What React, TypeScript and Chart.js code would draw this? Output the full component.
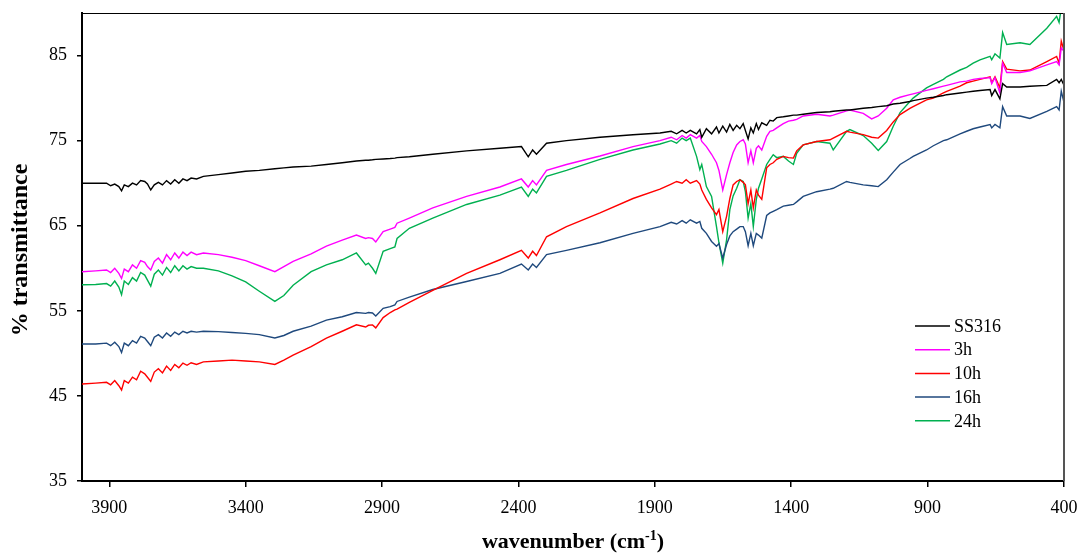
import React, { useEffect, useRef } from "react";
import { Chart, registerables } from "chart.js";

Chart.register(...registerables);

const wavenumbers = [
  4000, 3950, 3910, 3895, 3880, 3865, 3855, 3845, 3830, 3815,
  3800, 3785, 3770, 3760, 3748, 3735, 3720, 3705, 3690, 3675,
  3660, 3645, 3630, 3615, 3600, 3580, 3555, 3500, 3450, 3400,
  3350, 3293, 3260, 3226, 3160, 3104, 3046, 2994, 2960, 2950,
  2935, 2923, 2896, 2870, 2853, 2845, 2800, 2714, 2590, 2468,
  2389, 2364, 2348, 2334, 2297, 2224, 2101, 1980, 1881, 1840,
  1820, 1800, 1785, 1770, 1747, 1735, 1728, 1711, 1692, 1674,
  1665, 1651, 1637, 1625, 1613, 1600, 1588, 1576, 1568, 1558,
  1548, 1539, 1528, 1520, 1508, 1490, 1478, 1466, 1453, 1429,
  1410, 1392, 1380, 1356, 1307, 1258, 1246, 1197, 1185, 1136,
  1105, 1081, 1050, 1026, 1001, 965, 953, 904, 879, 842,
  830, 781, 757, 733, 708, 671, 665, 653, 635, 625,
  610, 561, 525, 463, 427, 418, 410, 400,
];

const ss316 = [
  70.0, 70.0, 70.0, 69.7, 69.9, 69.6, 69.1, 69.8, 69.6, 70.0,
  69.8, 70.3, 70.2, 69.9, 69.2, 69.8, 70.1, 69.8, 70.3, 69.9,
  70.4, 70.0, 70.5, 70.3, 70.6, 70.5, 70.8, 71.0, 71.2, 71.4,
  71.5, 71.7, 71.8, 71.9, 72.0, 72.2, 72.4, 72.6, 72.7, 72.7,
  72.75, 72.8, 72.85, 72.9, 72.95, 73.0, 73.1, 73.4, 73.8, 74.1,
  74.3, 73.1, 73.9, 73.4, 74.7, 75.0, 75.4, 75.7, 75.9, 76.1,
  75.8, 76.2, 75.9, 76.2, 75.8, 76.3, 75.4, 76.4, 75.8, 76.6,
  75.9, 76.7, 76.0, 76.9, 76.2, 76.8, 76.4, 77.0, 76.2, 75.2,
  76.5, 75.9, 77.0, 76.3, 77.1, 76.8, 77.4, 77.3, 77.7, 77.8,
  77.9, 78.0, 78.0, 78.1, 78.3, 78.4, 78.45, 78.6, 78.6, 78.8,
  78.9, 79.0, 79.1, 79.3, 79.4, 79.6, 79.7, 80.0, 80.1, 80.3,
  80.4, 80.6, 80.7, 80.8, 80.9, 81.0, 80.3, 81.0, 79.9, 81.7,
  81.3, 81.3, 81.4, 81.5, 82.2, 81.8, 82.2, 81.5,
];

const h3 = [
  59.6, 59.7, 59.8, 59.5, 60.0, 59.4, 58.8, 59.9, 59.6, 60.4,
  60.0, 60.9, 60.7, 60.2, 59.8, 60.8, 61.2, 60.6, 61.6, 61.0,
  61.8, 61.2, 61.9, 61.5, 61.9, 61.6, 61.8, 61.6, 61.3, 60.9,
  60.3, 59.6, 60.2, 60.8, 61.7, 62.6, 63.3, 63.9, 63.5, 63.6,
  63.5, 63.1, 64.3, 64.6, 64.8, 65.3, 65.9, 67.1, 68.45, 69.55,
  70.5, 69.55, 70.3, 69.8, 71.5, 72.2, 73.2, 74.3, 75.0, 75.4,
  75.1, 75.6, 75.3, 75.7, 75.3, 75.6, 74.9, 74.3, 73.4, 72.4,
  71.5, 69.2, 71.0, 72.4, 73.6, 74.5, 74.9, 75.1, 74.6, 72.4,
  73.8, 72.4, 74.1, 74.4, 73.9, 75.5, 76.1, 76.2, 76.5, 77.0,
  77.3, 77.4, 77.5, 77.9, 78.1, 77.9, 78.0, 78.5, 78.6, 78.2,
  77.55, 77.9, 78.8, 79.8, 80.1, 80.4, 80.5, 80.9, 81.1, 81.4,
  81.5, 81.9, 82.0, 82.2, 82.3, 82.4, 81.7, 82.4, 80.6, 84.1,
  83.0, 83.0, 83.2, 83.9, 84.3, 83.9, 85.9, 85.5,
];

const h10 = [
  46.4, 46.5, 46.6, 46.3, 46.8, 46.2, 45.7, 46.8, 46.5, 47.2,
  46.9, 47.9, 47.6, 47.2, 46.7, 47.8, 48.2, 47.7, 48.5, 48.0,
  48.7, 48.3, 48.85, 48.6, 48.9, 48.7, 49.0, 49.1, 49.2, 49.1,
  49.0, 48.7, 49.2, 49.8, 50.8, 51.8, 52.6, 53.35, 53.1, 53.3,
  53.35, 53.0, 54.2, 54.8, 55.1, 55.2, 56.0, 57.4, 59.4, 61.0,
  62.1, 61.2, 62.0, 61.5, 63.7, 64.9, 66.5, 68.2, 69.3, 69.9,
  70.2, 70.0, 70.4, 70.0, 70.3, 69.9, 69.2, 68.1, 67.1, 66.3,
  66.9, 64.3, 66.1, 68.2, 69.8, 70.2, 70.4, 70.1, 69.8, 67.6,
  69.2, 67.1, 69.2, 68.6, 68.1, 71.8, 72.2, 72.4, 72.8, 73.15,
  73.0, 72.95, 73.8, 74.5, 74.9, 75.1, 75.3, 76.1, 76.0, 75.7,
  75.4, 75.3, 76.2, 77.2, 78.06, 78.8, 79.0, 79.8, 80.0, 80.6,
  80.8, 81.4, 81.8, 82.0, 82.2, 82.5, 81.8, 82.5, 81.2, 84.3,
  83.4, 83.2, 83.3, 84.3, 84.9, 84.1, 86.7, 85.6,
];

const h16 = [
  51.1, 51.1, 51.2, 50.9, 51.3, 50.8, 50.1, 51.2, 50.9, 51.5,
  51.2, 52.0, 51.8, 51.4, 50.9, 51.9, 52.2, 51.8, 52.4, 52.0,
  52.5, 52.2, 52.6, 52.4, 52.6, 52.5, 52.6, 52.55, 52.45, 52.35,
  52.2, 51.8, 52.1, 52.6, 53.2, 53.9, 54.3, 54.8, 54.7, 54.8,
  54.75, 54.4, 55.3, 55.5, 55.7, 56.1, 56.6, 57.5, 58.45, 59.4,
  60.5, 59.8, 60.5, 60.1, 61.6, 62.1, 63.0, 64.1, 64.9, 65.4,
  65.2, 65.6, 65.3, 65.7, 65.3, 65.5, 64.7, 64.1, 63.15, 62.6,
  62.9, 61.2, 62.8, 63.8, 64.3, 64.6, 64.9, 64.9, 64.3, 62.65,
  64.1, 62.65, 64.1, 63.9, 63.55, 66.2, 66.5, 66.7, 66.9, 67.3,
  67.4, 67.5, 67.8, 68.45, 69.0, 69.3, 69.4, 70.2, 70.1, 69.8,
  69.7, 69.6, 70.4, 71.3, 72.2, 72.9, 73.15, 73.9, 74.4, 75.0,
  75.1, 75.8, 76.1, 76.4, 76.6, 76.9, 76.5, 76.9, 76.5, 79.0,
  77.9, 77.9, 77.6, 78.45, 79.0, 78.6, 80.8, 79.5,
];

const h24 = [
  58.06, 58.1, 58.2, 57.9, 58.5, 57.8, 56.9, 58.5, 58.1, 58.9,
  58.5, 59.5, 59.2, 58.6, 57.9, 59.3, 59.8, 59.2, 60.1, 59.5,
  60.3, 59.7, 60.3, 59.9, 60.2, 60.0, 60.0, 59.7, 59.1, 58.4,
  57.3, 56.1, 56.8, 58.0, 59.6, 60.4, 61.0, 61.8, 60.4, 60.6,
  60.0, 59.4, 62.0, 62.3, 62.5, 63.5, 64.7, 65.9, 67.5, 68.6,
  69.55, 68.45, 69.3, 68.85, 70.8, 71.5, 72.8, 73.9, 74.6, 75.0,
  74.7, 75.3, 75.0, 75.3, 73.15, 71.6, 72.2, 69.6, 68.45, 64.9,
  63.0, 60.6, 63.35, 66.9, 68.5, 69.4, 70.4, 70.2, 69.0, 65.9,
  67.6, 64.9, 68.1, 69.4, 70.5, 72.2, 72.8, 73.35, 73.0, 73.15,
  72.6, 72.2, 73.5, 74.5, 74.9, 74.7, 73.9, 76.1, 76.3, 75.6,
  74.7, 73.85, 74.9, 76.7, 78.3, 79.6, 80.0, 81.2, 81.6, 82.2,
  82.5, 83.3, 83.6, 84.1, 84.5, 84.9, 84.5, 85.2, 84.7, 87.7,
  86.3, 86.5, 86.3, 88.2, 89.6, 88.9, 90.6, 90.8,
];

const seriesLabels = ["SS316", "3h", "10h", "16h", "24h"];
const seriesValues = [ss316, h3, h10, h16, h24];
const seriesColors = ["#000000", "#FF00FF", "#FF0000", "#1F497D", "#00B050"];

const xTicks = [3900, 3400, 2900, 2400, 1900, 1400, 900, 400];
const yTicks = [35, 45, 55, 65, 75, 85];

const FONT = "'Liberation Serif', 'Times New Roman', serif";

const framePlugin = {
  id: "frame",
  afterDatasetsDraw(chart: any) {
    const { ctx, chartArea: a } = chart;
    ctx.save();
    ctx.strokeStyle = "#000";
    ctx.lineWidth = 1;
    ctx.beginPath();
    ctx.moveTo(a.left, a.top + 0.5);
    ctx.lineTo(a.right, a.top + 0.5);
    ctx.stroke();
    ctx.strokeStyle = "#555";
    ctx.lineWidth = 2;
    ctx.beginPath();
    ctx.moveTo(a.right, a.top);
    ctx.lineTo(a.right, a.bottom);
    ctx.stroke();
    ctx.restore();
  },
};

const legendPlugin = {
  id: "customLegend",
  afterDraw(chart: any) {
    const ctx = chart.ctx;
    ctx.save();
    ctx.font = `18px ${FONT}`;
    ctx.textBaseline = "middle";
    ctx.textAlign = "left";
    chart.data.datasets.forEach((ds: any, i: number) => {
      const y = 326 + i * 23.7;
      ctx.strokeStyle = ds.borderColor;
      ctx.lineWidth = 1.5;
      ctx.beginPath();
      ctx.moveTo(915, y);
      ctx.lineTo(950, y);
      ctx.stroke();
      ctx.fillStyle = "#000";
      ctx.fillText(ds.label, 954, y + 1);
    });
    ctx.restore();
  },
};

const titlesPlugin = {
  id: "axisTitles",
  afterDraw(chart: any) {
    const { ctx, chartArea: a } = chart;
    ctx.save();
    ctx.fillStyle = "#000";
    const main = "wavenumber (cm";
    const sup = "-1";
    const end = ")";
    ctx.font = `bold 22px ${FONT}`;
    const w1 = ctx.measureText(main).width;
    const w3 = ctx.measureText(end).width;
    ctx.font = `bold 14px ${FONT}`;
    const w2 = ctx.measureText(sup).width;
    const total = w1 + w2 + w3;
    const cx = (a.left + a.right) / 2;
    let x = cx - total / 2;
    const base = 548;
    ctx.textBaseline = "alphabetic";
    ctx.textAlign = "left";
    ctx.font = `bold 22px ${FONT}`;
    ctx.fillText(main, x, base);
    x += w1;
    ctx.font = `bold 14px ${FONT}`;
    ctx.fillText(sup, x, base - 8);
    x += w2;
    ctx.font = `bold 22px ${FONT}`;
    ctx.fillText(end, x, base);
    ctx.translate(27, 250);
    ctx.rotate(-Math.PI / 2);
    ctx.textAlign = "center";
    ctx.font = `bold 24px ${FONT}`;
    ctx.fillText("% transmittance", 0, 0);
    ctx.restore();
  },
};

export default function App() {
  const canvasRef = useRef<HTMLCanvasElement | null>(null);

  useEffect(() => {
    if (!canvasRef.current) return;
    const datasets = seriesLabels.map((label, i) => ({
      label,
      data: wavenumbers.map((w, j) => ({ x: w, y: seriesValues[i][j] })),
      borderColor: seriesColors[i],
      backgroundColor: seriesColors[i],
      borderWidth: 1.4,
      pointRadius: 0,
      tension: 0,
      fill: false,
      clip: 0,
    }));
    const chart = new Chart(canvasRef.current, {
      type: "line",
      data: { datasets },
      options: {
        animation: false,
        responsive: false,
        maintainAspectRatio: false,
        layout: { padding: { left: 0, top: 13, right: 16, bottom: 0 } },
        plugins: {
          legend: { display: false },
          tooltip: { enabled: false },
          title: { display: false },
        },
        scales: {
          x: {
            type: "linear",
            reverse: true,
            min: 400,
            max: 4000,
            afterBuildTicks: (s: any) => {
              s.ticks = xTicks.map((v) => ({ value: v }));
            },
            afterFit: (s: any) => {
              s.height = 76;
              s.paddingLeft = 0;
              s.paddingRight = 0;
            },
            grid: {
              drawOnChartArea: false,
              drawTicks: true,
              tickLength: 6,
              color: "#000",
              lineWidth: 1.5,
            },
            border: { display: true, color: "#000", width: 2 },
            ticks: {
              font: { family: FONT, size: 18 },
              color: "#000",
              padding: 10,
              maxRotation: 0,
              autoSkip: false,
              callback: (v: any) => String(v),
            },
          },
          y: {
            type: "linear",
            min: 35,
            max: 90,
            afterBuildTicks: (s: any) => {
              s.ticks = yTicks.map((v) => ({ value: v }));
            },
            afterFit: (s: any) => {
              s.width = 82;
              s.paddingTop = 0;
              s.paddingBottom = 0;
            },
            grid: {
              drawOnChartArea: false,
              drawTicks: true,
              tickLength: 5,
              color: "#000",
              lineWidth: 1.5,
            },
            border: { display: true, color: "#000", width: 2 },
            ticks: {
              font: { family: FONT, size: 18 },
              color: "#000",
              padding: 10,
              autoSkip: false,
              callback: (v: any) => String(v),
            },
          },
        },
      },
      plugins: [framePlugin, legendPlugin, titlesPlugin],
    } as any);
    return () => chart.destroy();
  }, []);

  return (
    <div
      style={{
        position: "fixed",
        left: 0,
        top: 0,
        width: 1080,
        height: 557,
        background: "#fff",
      }}
    >
      <canvas ref={canvasRef} width={1080} height={557} style={{ width: 1080, height: 557 }} />
    </div>
  );
}
